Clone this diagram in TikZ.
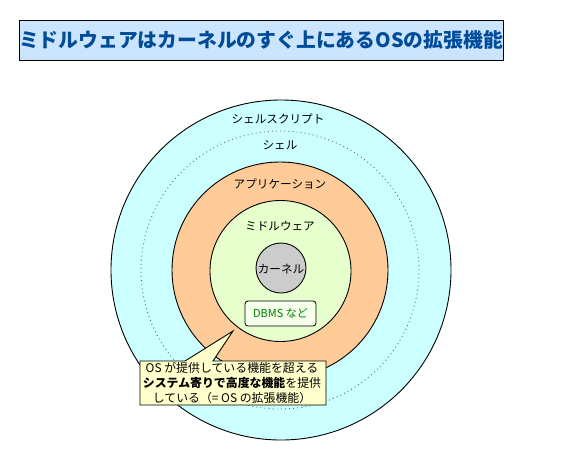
\documentclass[tikz,border=0pt]{standalone}
\usepackage{fontspec}
\setmainfont{Noto Sans CJK JP}
\definecolor{titlefill}{HTML}{CCE5FF}
\definecolor{titletext}{HTML}{004C99}
\definecolor{shellfill}{HTML}{CCFFFF}
\definecolor{appfill}{HTML}{FFCC99}
\definecolor{midfill}{HTML}{E6FFCC}
\definecolor{kernfill}{HTML}{CCCCCC}
\definecolor{notefill}{HTML}{FFFFCC}
\definecolor{dbmsfill}{HTML}{F5FFEB}
\definecolor{dbmstext}{HTML}{008000}
\tikzset{
  ring/.style={circle, draw=black, line width=0.9pt, inner sep=0pt},
  lbl/.style={font=\fontsize{11.6}{13}\selectfont, inner sep=0pt, text=black},
}
\begin{document}
\begin{tikzpicture}[x=1pt,y=-1pt]
\useasboundingbox (0,0) rectangle (561,461);
% title
\node[draw=black, line width=0.9pt, fill=titlefill, minimum width=484pt, minimum height=40pt,
      text=titletext, font=\fontsize{19.8}{22}\selectfont\bfseries, inner sep=0pt]
  (title) at (261,40) {ミドルウェアはカーネルのすぐ上にあるOSの拡張機能};
% circles
\node[ring, fill=shellfill, minimum size=340pt] (shell) at (281,270) {};
\node[circle, draw=black!60, line width=0.9pt, dash pattern=on 0.9pt off 3.2pt, minimum size=278pt, inner sep=0pt] (shellin) at (280,270) {};
\node[ring, fill=appfill, minimum size=216pt] (app) at (280,270) {};
\node[ring, fill=midfill, minimum size=141pt] (mid) at (280.5,271) {};
\node[ring, fill=kernfill, minimum size=50pt] (kern) at (281,268) {};
% labels
\node[lbl] (lscript) at (278,119) {シェルスクリプト};
\node[lbl] (lshell) at (280,145) {シェル};
\node[lbl] (lapp) at (280,184) {アプリケーション};
\node[lbl] (lmid) at (280,226) {ミドルウェア};
\node[lbl] (lkern) at (281,269) {カーネル};
% DBMS
\node[draw=black, line width=0.8pt, rounded corners=3pt, fill=dbmsfill, minimum width=71pt, minimum height=25pt,
      text=dbmstext, font=\fontsize{11}{12}\selectfont, inner sep=0pt] (dbms) at (280.5,313.5) {DBMS など};
% callout
\coordinate (tip) at (233,331);
\draw[line width=0.9pt, fill=notefill, line join=miter]
  (140,361) -- (185,361) -- (tip) -- (213,361) -- (326,361) -- (326,405) -- (140,405) -- cycle;
\node[align=center, font=\fontsize{11.9}{15.3}\selectfont, inner sep=0pt, text=black] (note) at (232,383)
  {OS が提供している機能を超える\\{\bfseries システム寄りで高度な機能}を提供\\している（= OS の拡張機能）};
\end{tikzpicture}
\end{document}
